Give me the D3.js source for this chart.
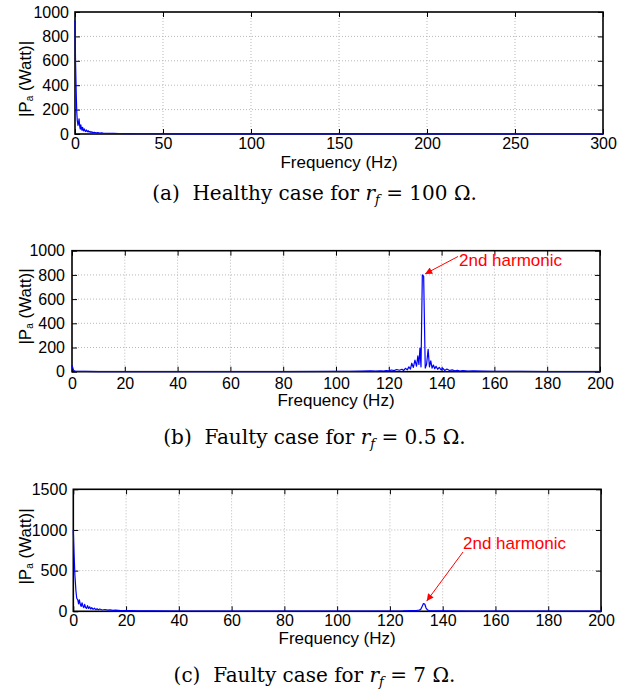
<!DOCTYPE html>
<html><head><meta charset="utf-8">
<script src="https://cdn.jsdelivr.net/npm/d3@7"></script>
<style>body{margin:0;background:#fff} svg{display:block}</style>
</head><body>
<svg id="chart" width="624" height="691"></svg>
<script>
// ---- Data ----
const freqA = [0, 0.3, 0.7, 1.0, 1.3, 1.7, 2.0, 2.3, 2.7, 3.0, 3.3, 3.7, 4.0, 4.3, 4.7, 5.0, 5.3, 5.7, 6.0, 6.5, 7.0, 7.5, 8.0, 8.5, 9.0, 9.5, 10, 11, 12, 13, 14, 15, 16, 18, 20, 22, 25, 28, 32, 36, 40, 50, 60, 80, 100, 150, 200, 250, 300];
const powA  = [930, 600, 330, 180, 110, 70, 90, 125, 60, 40, 75, 45, 30, 55, 35, 25, 42, 28, 20, 33, 18, 27, 15, 22, 13, 18, 12, 14, 10, 11, 8, 9, 7, 6, 5, 5, 4, 3, 3, 2, 2, 2, 1, 1, 1, 1, 1, 0, 0];

const freqB = [0, 0.3, 0.6, 1, 1.5, 2, 5, 10, 20, 40, 60, 80, 100, 105, 110, 113, 115, 117, 118, 119, 120, 121, 122, 123, 124, 125, 125.6, 126.3, 127, 127.6, 128.2, 128.7, 129.3, 129.9, 130.5, 131.0, 131.4, 131.8, 132.2, 132.7, 133.2, 133.8, 134.3, 134.9, 135.4, 135.9, 136.4, 136.9, 137.4, 137.9, 138.5, 139.1, 139.8, 140.5, 141.2, 142, 143, 144, 145, 146, 147, 148, 150, 152, 155, 160, 170, 180, 200];
const powB  = [55, 30, 12, 5, 3, 2, 2, 1, 1, 1, 1, 1, 2, 3, 4, 6, 5, 8, 6, 10, 7, 14, 9, 18, 12, 20, 10, 28, 15, 40, 22, 70, 35, 95, 45, 130, 60, 195, 40, 800, 790, 30, 60, 185, 40, 90, 30, 55, 25, 45, 20, 35, 15, 28, 10, 22, 10, 15, 8, 11, 6, 9, 5, 6, 4, 3, 2, 1, 1];

const freqC = [0, 0.3, 0.6, 1.0, 1.3, 1.7, 2.0, 2.3, 2.7, 3.0, 3.3, 3.7, 4.0, 4.3, 4.7, 5.0, 5.4, 5.8, 6.2, 6.6, 7.0, 7.5, 8.0, 8.5, 9.0, 9.5, 10, 11, 12, 13, 14, 15, 16, 18, 20, 22, 25, 30, 40, 60, 80, 100, 120, 125, 128, 130, 131, 131.6, 132.2, 132.7, 133.2, 133.7, 134.3, 135, 137, 140, 150, 200];
const powC  = [1000, 700, 450, 250, 160, 140, 90, 140, 80, 60, 105, 60, 45, 85, 45, 35, 70, 35, 55, 28, 45, 24, 38, 20, 32, 18, 28, 16, 22, 14, 18, 12, 15, 10, 10, 8, 7, 5, 4, 3, 3, 3, 4, 5, 8, 10, 15, 20, 60, 95, 90, 40, 15, 10, 6, 5, 3, 2];

const xTicksA = [0, 50, 100, 150, 200, 250, 300];
const yTicksA = [0, 200, 400, 600, 800, 1000];
const xTicksB = [0, 20, 40, 60, 80, 100, 120, 140, 160, 180, 200];
const yTicksB = [0, 200, 400, 600, 800, 1000];
const xTicksC = [0, 20, 40, 60, 80, 100, 120, 140, 160, 180, 200];
const yTicksC = [0, 500, 1000, 1500];

const xLabel = "Frequency (Hz)";
const annotationText = "2nd harmonic";
const peakB = [133, 800];
const peakC = [133, 95];
const captionA = ["(a)  Healthy case for ", "100"];
const captionB = ["(b)  Faulty case for ", "0.5"];
const captionC = ["(c)  Faulty case for ", "7"];

// ---- Drawing ----
const svg = d3.select("#chart");
const SANS = "'Liberation Sans', Arial, Helvetica, sans-serif";
const SERIF = "'DejaVu Serif', 'Liberation Serif', serif";
const fmt = d => String(d);

function panel(cfg) {
  const x = d3.scaleLinear().domain([cfg.xTicks[0], cfg.xTicks[cfg.xTicks.length - 1]]).range([cfg.left, cfg.right]);
  const y = d3.scaleLinear().domain([cfg.yTicks[0], cfg.yTicks[cfg.yTicks.length - 1]]).range([cfg.bottom, cfg.top]);
  const g = svg.append("g");

  // grid
  g.append("g").selectAll("line").data(cfg.xTicks.slice(1, -1)).join("line")
    .attr("x1", d => x(d)).attr("x2", d => x(d)).attr("y1", cfg.top).attr("y2", cfg.bottom)
    .attr("stroke", "#b8b8b8").attr("stroke-width", 1).attr("stroke-dasharray", "1,2");
  g.append("g").selectAll("line").data(cfg.yTicks.slice(1, -1)).join("line")
    .attr("y1", d => y(d)).attr("y2", d => y(d)).attr("x1", cfg.left).attr("x2", cfg.right)
    .attr("stroke", "#b8b8b8").attr("stroke-width", 1).attr("stroke-dasharray", "1,2");

  // axes
  const ax = [
    g.append("g").attr("transform", `translate(0,${cfg.bottom})`)
      .call(d3.axisBottom(x).tickValues(cfg.xTicks).tickFormat(fmt).tickSize(-5).tickPadding(cfg.xPad)),
    g.append("g").attr("transform", `translate(0,${cfg.top})`)
      .call(d3.axisTop(x).tickValues(cfg.xTicks).tickSize(-5).tickFormat("")),
    g.append("g").attr("transform", `translate(${cfg.left},0)`)
      .call(d3.axisLeft(y).tickValues(cfg.yTicks).tickFormat(fmt).tickSize(-5).tickPadding(cfg.yPad)),
    g.append("g").attr("transform", `translate(${cfg.right},0)`)
      .call(d3.axisRight(y).tickValues(cfg.yTicks).tickSize(-5).tickFormat(""))
  ];
  ax.forEach(a => {
    a.select(".domain").remove();
    a.selectAll(".tick line").attr("stroke", "#000").attr("stroke-width", 1);
    a.selectAll("text").attr("font-family", SANS).attr("font-size", 16).attr("fill", "#000");
  });

  // box
  g.append("rect").attr("x", cfg.left).attr("y", cfg.top)
    .attr("width", cfg.right - cfg.left).attr("height", cfg.bottom - cfg.top)
    .attr("fill", "none").attr("stroke", "#000").attr("stroke-width", 1.6);

  // data line
  const line = d3.line().x((d, i) => x(cfg.freq[i])).y(d => y(d));
  g.append("path").datum(cfg.pow).attr("d", line)
    .attr("fill", "none").attr("stroke", "#0000ff").attr("stroke-width", 1.2).attr("stroke-linejoin", "round");

  // x label
  g.append("text").attr("x", (cfg.left + cfg.right) / 2).attr("y", cfg.xLabelY)
    .attr("text-anchor", "middle").attr("dominant-baseline", "central")
    .attr("font-family", SANS).attr("font-size", 17).text(xLabel);

  // y label
  const yl = g.append("text")
    .attr("transform", `translate(25,${cfg.yLabelY}) rotate(-90)`)
    .attr("text-anchor", "middle").attr("dominant-baseline", "central")
    .attr("font-family", SANS).attr("font-size", 17);
  yl.append("tspan").text("|P");
  yl.append("tspan").attr("font-size", 10).attr("dy", 4).text("a");
  yl.append("tspan").attr("dy", -4).text("\u00a0(Watt)|");

  // annotation
  if (cfg.peak) {
    const tx = x(cfg.peak[0]) + cfg.tipOff[0], ty = y(cfg.peak[1]) + cfg.tipOff[1];
    g.append("line").attr("x1", cfg.tail[0]).attr("y1", cfg.tail[1]).attr("x2", tx).attr("y2", ty)
      .attr("stroke", "#ff0000").attr("stroke-width", 1).attr("marker-end", "url(#arr)");
    g.append("text").attr("x", cfg.annX).attr("y", cfg.annY)
      .attr("font-family", SANS).attr("font-size", 17).attr("fill", "#ff0000").text(annotationText);
  }

  // caption
  const cap = svg.append("text").attr("x", 314.5).attr("y", cfg.capY)
    .attr("text-anchor", "middle").attr("font-family", SERIF).attr("font-size", 20)
    .attr("xml:space", "preserve");
  cap.append("tspan").text(cfg.caption[0]);
  cap.append("tspan").attr("font-style", "italic").text("r");
  cap.append("tspan").attr("font-style", "italic").attr("font-size", 13).attr("dy", 4).text("f");
  cap.append("tspan").attr("dy", -4).text(" = " + cfg.caption[1] + " \u03a9.");
}

// arrow marker
svg.append("defs").append("marker").attr("id", "arr")
  .attr("viewBox", "0 0 10 10").attr("refX", 10).attr("refY", 5)
  .attr("markerWidth", 9).attr("markerHeight", 7).attr("markerUnits", "userSpaceOnUse")
  .attr("orient", "auto")
  .append("path").attr("d", "M0,0 L10,5 L0,10 z").attr("fill", "#ff0000");

panel({freq: freqA, pow: powA, xTicks: xTicksA, yTicks: yTicksA,
  left: 75, right: 603, top: 12, bottom: 134, xPad: 4, yPad: 6,
  xLabelY: 162.5, yLabelY: 79, capY: 200, caption: captionA});
panel({freq: freqB, pow: powB, xTicks: xTicksB, yTicks: yTicksB,
  left: 72, right: 600, top: 250.7, bottom: 371.7, xPad: 6, yPad: 7,
  xLabelY: 400.5, yLabelY: 306.5, capY: 444, caption: captionB,
  peak: peakB, tipOff: [2, -1], tail: [458, 256.5], annX: 459, annY: 266});
panel({freq: freqC, pow: powC, xTicks: xTicksC, yTicks: yTicksC,
  left: 73.3, right: 601, top: 489.3, bottom: 611.3, xPad: 3, yPad: 6,
  xLabelY: 638.5, yLabelY: 546.5, capY: 682, caption: captionC,
  peak: peakC, tipOff: [2.5, -2.5], tail: [463, 552], annX: 463, annY: 549});
</script>
</body></html>
